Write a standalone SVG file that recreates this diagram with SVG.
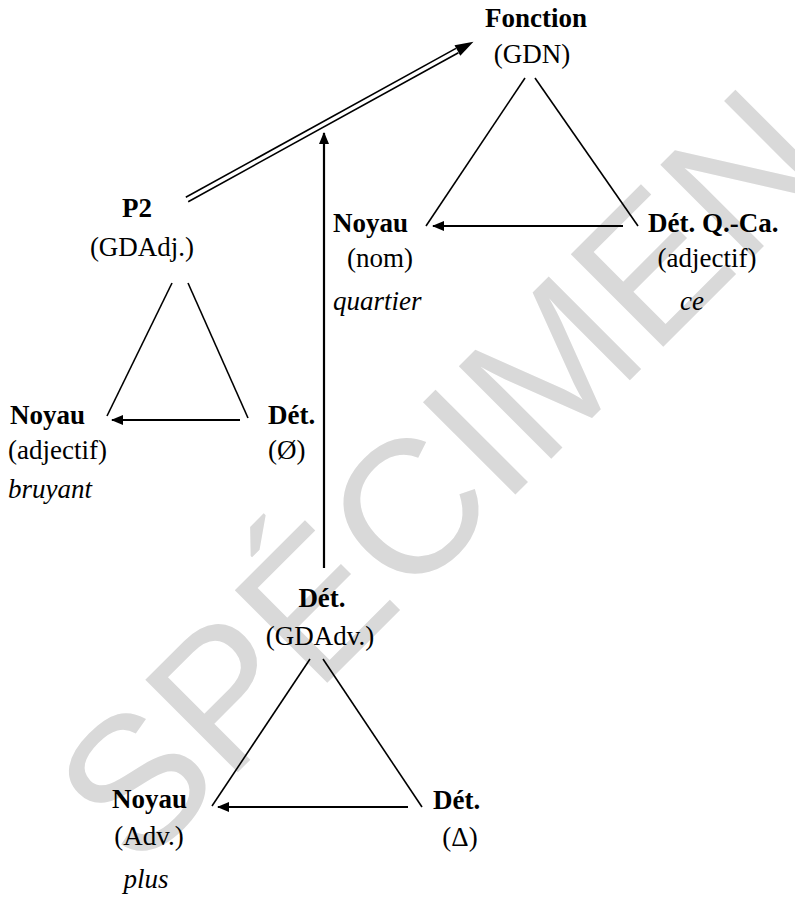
<svg xmlns="http://www.w3.org/2000/svg" width="795" height="900" viewBox="0 0 795 900">
<style>
  .t { font-family: 'Liberation Serif', 'DejaVu Serif', serif; font-size: 27px; fill: #000; }
  .b { font-weight: bold; }
  .i { font-style: italic; }
  .m { text-anchor: middle; }
  .tri { stroke: #000; stroke-width: 1.6; fill: none; }
  .arr { stroke: #000; stroke-width: 2.2; fill: none; marker-end: url(#ah); }
  .wm { font-family: 'Liberation Sans', Arial, sans-serif; font-size: 190px; fill: #d9d9d9; text-anchor: middle; }
</style>
<defs>
  <marker id="ah" viewBox="0 0 12 10" refX="11" refY="5" markerWidth="12" markerHeight="10" markerUnits="userSpaceOnUse" orient="auto">
    <path d="M0,0 L12,5 L0,10 Z" fill="#000"/>
  </marker>
</defs>
<rect width="795" height="900" fill="#fff"/>
<g id="watermark">
  <text class="wm" transform="translate(488,522) rotate(-45)">SPÉCIMEN</text>
</g>
<g id="connectors">
  <line x1="185.8" y1="197.3" x2="456" y2="48.4" stroke="#000" stroke-width="1.6"/>
  <line x1="188.2" y1="201.7" x2="458.4" y2="52.8" stroke="#000" stroke-width="1.6"/>
  <polygon points="473.5,41.8 454.5,45.3 460.3,55.8" fill="#000"/>
  <line class="arr" x1="324" y1="568" x2="324" y2="133"/>
  <line class="tri" x1="426" y1="226" x2="525" y2="78"/>
  <line class="tri" x1="535" y1="78" x2="638" y2="226"/>
  <line class="arr" x1="623" y1="226" x2="433" y2="226"/>
  <line class="tri" x1="107" y1="416" x2="172" y2="283"/>
  <line class="tri" x1="188" y1="283" x2="248" y2="418"/>
  <line class="arr" x1="240" y1="420" x2="112" y2="420"/>
  <line class="tri" x1="212" y1="806" x2="310" y2="659"/>
  <line class="tri" x1="323" y1="659" x2="422" y2="807"/>
  <line class="arr" x1="408" y1="807" x2="218" y2="807"/>
</g>
<g id="fonction">
  <text class="t b m" x="536" y="27">Fonction</text>
  <text class="t m" x="532" y="63">(GDN)</text>
</g>
<g id="noyau-nom">
  <text class="t b" x="333" y="232">Noyau</text>
  <text class="t m" x="380" y="267">(nom)</text>
  <text class="t i" x="333" y="310">quartier</text>
</g>
<g id="det-qca">
  <text class="t b" x="648" y="232">Dét. Q.-Ca.</text>
  <text class="t m" x="707" y="267">(adjectif)</text>
  <text class="t i m" x="692" y="310">ce</text>
</g>
<g id="p2">
  <text class="t b m" x="137" y="217">P2</text>
  <text class="t m" x="142" y="256">(GDAdj.)</text>
</g>
<g id="noyau-adjectif">
  <text class="t b" x="10" y="424">Noyau</text>
  <text class="t" x="8" y="459">(adjectif)</text>
  <text class="t i" x="8" y="498">bruyant</text>
</g>
<g id="det-zero">
  <text class="t b" x="268" y="424">Dét.</text>
  <text class="t" x="268" y="459">(Ø)</text>
</g>
<g id="det-gdadv">
  <text class="t b m" x="322" y="607">Dét.</text>
  <text class="t m" x="320" y="645">(GDAdv.)</text>
</g>
<g id="noyau-adv">
  <text class="t b" x="112" y="808">Noyau</text>
  <text class="t m" x="149" y="845">(Adv.)</text>
  <text class="t i m" x="146" y="888">plus</text>
</g>
<g id="det-delta">
  <text class="t b" x="433" y="809">Dét.</text>
  <text class="t m" x="460" y="846">(Δ)</text>
</g>
</svg>
